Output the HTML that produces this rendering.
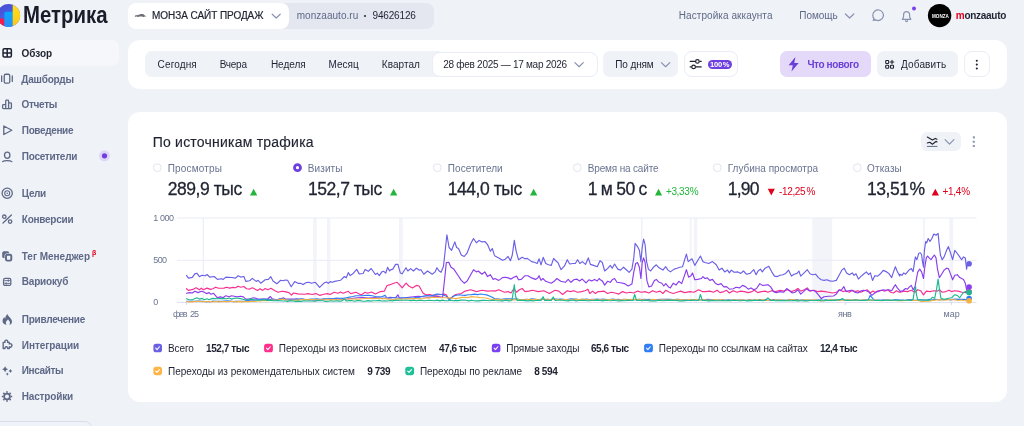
<!DOCTYPE html>
<html lang="ru"><head><meta charset="utf-8"><title>Метрика</title>
<style>
*{box-sizing:border-box;margin:0;padding:0}
html,body{width:1024px;height:426px;overflow:hidden;background:#eff2f7;font-family:"Liberation Sans",sans-serif;color:#1f2331}
.a{position:absolute;white-space:nowrap;line-height:1}
.p{position:absolute}
#w{position:absolute;left:0;top:0;width:1024px;height:426px;will-change:transform}
</style></head><body><div id="w">
<!-- panels -->
<div class="p" style="left:127.5px;top:2.8px;width:306.4px;height:25.8px;border-radius:8px;background:#e4e7f0"></div>
<div class="p" style="left:127.5px;top:2.8px;width:161px;height:25.8px;border-radius:8px;background:#fff"></div>
<div class="p" style="left:-8px;top:40px;width:127px;height:25.8px;border-radius:7px;background:#f6f7fa"></div>
<div class="p" style="left:127.5px;top:40.2px;width:879.6px;height:48.8px;border-radius:12px;background:#fff"></div>
<div class="p" style="left:145px;top:51.2px;width:300px;height:25.8px;border-radius:7px;background:#eff2f7"></div>
<div class="p" style="left:431.5px;top:51.6px;width:166px;height:25px;border-radius:8px;background:#fff;border:1px solid #ebedf5"></div>
<div class="p" style="left:603.2px;top:51.2px;width:75px;height:25.8px;border-radius:7px;background:#eff2f7"></div>
<div class="p" style="left:684px;top:51.2px;width:54px;height:25.8px;border-radius:8px;background:#fff;border:1px solid #ebedf5"></div>
<div class="p" style="left:707.8px;top:59.8px;width:23.8px;height:9px;border-radius:4.5px;background:#6e3fe0"></div>
<div class="p" style="left:780px;top:51.2px;width:91px;height:25.8px;border-radius:7px;background:#e5d9fa"></div>
<div class="p" style="left:877px;top:51.2px;width:81px;height:25.8px;border-radius:7px;background:#eff2f7"></div>
<div class="p" style="left:964px;top:51.2px;width:25.8px;height:25.8px;border-radius:8px;background:#fff;border:1px solid #ebedf5"></div>
<div class="p" style="left:127.5px;top:111.9px;width:879.6px;height:290.3px;border-radius:12px;background:#fff"></div>
<div class="p" style="left:920.9px;top:131.8px;width:39.8px;height:19.7px;border-radius:6px;background:#eff2f7"></div>
<div class="p" style="left:-10px;top:421.4px;width:102px;height:20px;border-radius:7px;border:1px solid #d9ddeb"></div>
<!-- logo text -->
<div class="a" id="logo" style="left:23.2px;top:3.5px;font-size:22.5px;font-weight:bold;color:#1a1c29;transform-origin:0 0;transform:scale(0.905,1.065)">Метрика</div>
<div class="a" style="left:92px;top:249.3px;font-size:7px;font-weight:bold;color:#e0001b">β</div>
<svg class="a" style="left:0;top:0" width="1024" height="426" viewBox="0 0 1024 426"><rect x="313.1" y="218" width="3.5" height="84.5" fill="#f3f4fa"/><rect x="327" y="218" width="3.4" height="84.5" fill="#f3f4fa"/><rect x="399" y="218" width="3.8" height="84.5" fill="#f3f4fa"/><rect x="689.7" y="218" width="1.9" height="84.5" fill="#f3f4fa"/><rect x="693.9" y="218" width="3.3" height="84.5" fill="#f3f4fa"/><rect x="812.3" y="218" width="19.9" height="84.5" fill="#f3f4fa"/><rect x="922.9" y="218" width="1.9" height="84.5" fill="#f3f4fa"/><rect x="949.4" y="218" width="3.7" height="84.5" fill="#f3f4fa"/><rect x="202.7" y="218" width="1.2" height="84.5" fill="#ecedf7"/><rect x="641.2" y="218" width="1.2" height="84.5" fill="#ecedf7"/><rect x="177" y="217.5" width="799.5" height="1" fill="#eaebf5"/><rect x="177" y="259.8" width="799.5" height="1" fill="#eaebf5"/><rect x="177" y="302" width="799.5" height="1" fill="#dfe2ee"/><rect x="185.8" y="302.5" width="1" height="2.3" fill="#d0d4e4"/><rect x="844.8" y="302.5" width="1" height="2.3" fill="#d0d4e4"/><rect x="951.1" y="302.5" width="1" height="2.3" fill="#d0d4e4"/><polyline points="186.5,275.4 188.4,278.1 192.3,277.4 194.8,273.9 196.8,273.2 199.4,276.7 201.9,275.2 205.2,275.8 207.1,274.5 209.7,277.1 214.2,276.5 217.4,279.4 221.3,278.7 223.3,279.4 225.8,277.1 231.6,277.5 235.5,278.1 238.1,275.8 240.7,277.1 243.9,276.5 245.8,281.4 249.7,280.7 252.3,278.4 256.2,281.4 258.1,280.3 260.7,283.2 265.2,279.7 268.4,279.4 270.8,276.7 273.0,281.0 276.8,283.8 280.7,280.3 283.3,280.7 285.0,280.0 287.6,280.3 291.2,286.8 294.7,281.6 297.9,283.3 300.5,283.3 303.1,284.6 306.3,282.5 308.9,282.3 311.5,283.3 315.3,282.3 319.6,287.4 323.7,283.3 326.3,282.0 328.3,283.3 330.2,281.6 332.1,282.3 334.7,281.4 337.9,280.7 340.5,280.3 344.4,276.5 346.3,277.8 348.3,272.6 350.2,275.6 353.4,273.2 356.7,269.4 359.2,273.9 363.1,273.5 365.1,269.4 368.3,271.3 371.2,268.5 375.4,274.5 377.3,273.2 379.3,275.6 381.8,271.9 383.8,271.3 385.7,273.2 387.6,267.4 389.6,271.0 390.0,270.1 392.8,269.1 395.6,264.4 397.9,264.4 400.3,272.9 402.2,273.8 406.0,267.8 407.8,271.0 410.6,268.6 413.5,271.0 416.3,268.2 419.1,270.1 421.0,269.7 423.8,274.2 427.5,271.0 432.2,274.2 435.1,271.9 436.9,267.8 439.2,271.0 441.1,272.3 443.5,266.3 446.9,234.8 449.1,247.5 451.6,250.3 454.8,241.9 456.6,247.5 458.5,248.5 461.3,255.0 464.2,256.5 467.0,253.2 470.7,243.8 473.5,238.5 476.4,242.8 479.2,240.4 482.0,241.9 484.8,241.5 487.6,244.7 490.4,251.3 492.3,248.5 494.2,254.7 495.0,256.0 498.8,257.9 502.5,260.3 505.3,259.2 508.1,256.5 510.4,260.7 512.3,255.0 514.3,240.4 516.2,251.3 518.5,259.7 522.2,257.3 525.0,258.8 527.3,258.4 531.6,261.6 534.4,262.2 537.2,263.5 539.1,258.8 541.0,264.8 543.2,257.3 545.7,263.5 548.5,264.8 551.3,265.4 553.6,258.4 556.0,261.0 557.9,262.5 561.1,269.7 564.5,265.9 567.3,259.7 569.7,264.0 572.9,263.5 575.3,263.5 577.6,259.7 579.9,263.5 582.3,261.6 585.5,264.4 588.3,257.9 590.4,264.4 593.6,265.4 597.3,266.7 600.0,260.7 602.3,262.5 604.7,271.0 607.5,268.6 610.3,265.4 612.2,268.2 614.6,264.0 617.8,269.1 620.6,270.1 623.5,267.2 626.3,269.7 629.1,272.3 631.9,269.1 633.8,257.9 635.1,243.4 637.5,246.6 639.4,250.3 640.9,261.6 642.2,247.5 643.6,239.1 645.1,244.7 646.6,261.6 648.4,269.1 650.7,271.0 653.5,267.2 656.3,264.8 659.1,267.8 662.9,270.1 665.7,266.7 668.0,270.1 670.4,271.9 674.2,269.1 677.0,268.2 679.8,267.2 682.6,266.7 684.9,258.8 686.4,254.1 688.2,261.6 692.0,258.8 694.8,265.4 697.6,260.7 700.4,256.0 702.9,261.6 705.0,262.5 708.8,263.5 712.5,261.6 716.3,264.8 719.1,270.1 721.9,268.2 724.7,271.9 727.5,270.1 729.4,272.9 731.3,270.1 734.1,272.3 737.9,271.9 740.7,273.4 743.5,271.0 746.3,274.2 750.1,273.4 753.8,269.7 756.1,274.7 758.1,271.0 760.4,269.1 762.3,271.9 765.1,268.2 768.8,266.3 771.6,271.6 774.5,276.1 777.3,276.6 780.1,275.3 782.9,274.7 785.7,273.4 788.5,270.1 791.4,276.1 794.2,274.2 797.0,273.4 798.9,271.0 800.7,276.1 803.6,273.4 807.3,269.7 810.0,273.8 812.8,274.7 815.6,274.2 818.4,277.6 821.3,279.8 824.1,280.4 826.9,279.8 829.7,280.9 832.5,281.3 836.3,280.4 839.1,275.3 841.9,270.1 844.2,268.2 846.6,272.9 849.4,274.7 852.2,272.9 854.1,275.3 856.0,273.8 858.4,279.1 860.7,276.6 863.5,274.2 866.3,271.9 868.6,274.7 870.4,272.9 872.5,280.4 874.8,275.7 877.6,276.1 880.4,273.8 883.2,270.4 886.0,271.6 888.8,273.4 891.7,277.6 893.5,271.9 895.4,266.7 897.3,271.6 899.7,276.1 900.0,274.2 901.9,275.3 903.8,272.9 905.6,274.2 907.5,271.9 909.4,269.7 911.3,268.6 913.1,271.6 914.6,261.6 915.4,256.9 916.9,259.7 918.8,253.2 920.3,252.8 921.6,254.7 922.5,261.6 923.5,267.2 924.4,250.3 925.7,241.5 926.7,242.8 928.2,238.5 930.0,241.5 931.9,238.5 933.8,234.0 936.0,235.3 938.1,233.4 939.0,242.8 940.4,255.0 942.2,259.7 944.1,256.9 946.6,250.3 948.4,246.6 950.3,252.2 952.6,259.7 954.8,250.3 957.3,253.5 959.7,256.9 961.6,259.7 963.5,256.9 965.3,257.9 966.6,269.1 967.6,263.5 969.1,263.9" fill="none" stroke="#6a60e6" stroke-width="1.15" stroke-linejoin="round" stroke-linecap="round"/><polyline points="186.5,288.7 188.4,290.4 192.9,289.4 196.1,287.8 199.4,289.8 201.3,288.1 203.2,289.8 207.1,288.1 210.3,289.4 212.9,288.7 215.5,287.2 218.7,288.3 223.9,288.1 226.5,287.2 229.7,288.1 232.9,287.4 235.5,287.8 238.1,286.2 240.7,287.2 243.9,286.5 246.5,288.7 249.7,289.1 252.3,287.8 257.5,290.4 260.1,288.7 262.6,290.4 265.2,288.5 267.8,289.8 271.0,288.3 274.9,290.7 278.1,292.3 282.0,291.3 285.0,291.6 288.9,292.6 291.5,295.2 293.4,293.0 297.9,293.9 304.4,294.3 308.2,293.6 312.1,294.5 316.0,293.6 319.9,295.4 323.7,294.3 327.6,293.6 330.2,294.5 334.1,292.3 337.9,293.3 340.5,292.0 343.1,293.3 345.7,292.3 348.3,291.3 350.8,293.6 356.0,292.3 361.2,294.9 365.1,292.3 367.6,293.3 371.5,292.0 375.4,293.9 380.5,291.6 384.4,291.1 387.0,285.5 389.6,284.9 390.0,284.7 393.8,283.2 397.1,282.3 399.4,284.7 402.2,287.9 406.0,283.2 408.8,286.0 412.5,287.9 416.3,285.4 419.1,286.0 422.9,293.0 425.7,294.8 429.4,294.5 433.2,295.4 438.8,294.8 444.4,294.1 446.3,294.8 449.1,299.2 451.9,297.3 455.7,294.5 461.3,293.5 465.1,291.1 470.7,289.8 476.4,291.6 482.0,290.3 487.6,291.1 493.2,290.7 495.0,291.1 498.8,289.8 504.4,292.2 508.1,291.6 511.0,293.0 513.8,288.8 516.6,292.2 519.4,289.8 522.2,288.5 525.0,291.6 528.8,291.1 532.5,290.3 538.2,291.6 543.8,290.7 549.4,293.5 555.1,290.3 558.8,291.1 562.6,294.5 567.3,290.7 570.1,291.6 573.8,290.7 577.6,292.2 581.4,291.6 585.1,290.7 587.9,289.2 589.8,293.5 592.6,291.1 595.4,293.5 598.2,291.6 600.0,291.6 603.8,291.1 607.5,293.5 611.3,292.2 615.0,293.0 618.8,294.1 622.5,291.6 626.3,293.0 630.0,292.2 633.8,293.0 637.5,291.1 641.3,292.2 645.1,291.6 648.8,293.0 652.6,290.7 656.3,292.2 660.1,291.1 662.9,293.5 665.7,290.3 669.5,292.2 673.2,293.5 677.0,292.2 680.7,291.1 684.5,292.6 690.1,291.6 693.9,292.2 698.6,289.8 702.3,291.6 705.0,291.6 709.7,291.1 713.4,292.2 717.2,290.3 720.0,292.6 723.8,291.6 726.6,290.3 729.4,293.0 733.2,290.7 736.9,292.2 740.7,291.1 744.4,291.6 748.2,292.6 751.9,291.6 754.7,290.3 757.6,292.6 761.3,291.6 765.1,291.1 767.9,292.2 771.6,290.7 775.4,291.6 780.1,290.3 783.8,291.1 787.6,289.8 791.4,291.6 795.1,290.3 797.9,288.5 800.7,291.1 804.5,289.8 807.3,287.9 810.0,291.1 813.8,290.3 817.5,291.6 821.3,291.1 825.0,291.6 828.8,292.2 832.5,293.0 836.3,292.2 840.0,289.8 842.9,291.6 845.7,290.7 849.4,292.2 852.2,290.3 855.1,291.6 857.9,290.7 860.7,292.2 864.4,290.7 867.3,289.8 870.1,293.0 872.9,291.1 874.8,292.2 877.6,291.1 881.3,290.3 885.1,291.1 887.9,289.8 890.7,292.2 893.5,293.0 896.4,290.7 899.2,292.2 900.0,292.2 903.8,291.1 907.5,291.6 911.3,290.3 915.0,292.2 917.8,289.8 920.6,290.7 923.5,294.8 926.3,291.1 930.0,291.6 933.8,290.7 937.5,291.1 939.4,289.8 942.2,292.2 946.0,291.6 948.8,290.3 951.6,291.6 954.4,290.7 958.2,291.1 961.9,292.2 965.7,292.6 969.1,291.6" fill="none" stroke="#f72f8f" stroke-width="1.15" stroke-linejoin="round" stroke-linecap="round"/><polyline points="186.5,293.3 189.7,292.6 192.3,293.0 194.8,291.3 198.1,292.6 201.3,291.3 203.9,292.0 206.5,293.6 209.1,292.6 211.0,294.2 213.6,293.3 217.4,297.8 220.0,296.9 223.3,297.5 225.8,295.8 229.1,296.7 231.6,295.8 236.8,296.7 240.7,296.2 243.3,296.9 245.8,299.1 249.7,298.8 253.6,297.8 257.5,298.8 262.6,299.1 267.8,298.8 270.4,296.5 272.3,298.8 276.8,299.7 282.0,298.4 283.3,297.8 285.0,298.8 297.9,299.1 310.8,299.7 318.6,300.4 323.7,299.3 336.6,298.8 343.1,299.5 349.6,298.8 357.3,297.8 362.5,297.5 368.9,298.0 375.4,297.5 381.8,298.4 388.3,297.8 390.0,297.3 395.6,297.8 397.9,294.8 399.4,298.2 408.8,297.3 418.2,296.3 427.5,297.3 436.9,296.3 442.6,297.3 444.4,281.3 446.3,262.5 448.8,262.2 451.0,267.2 453.8,269.1 457.6,274.7 461.3,280.4 464.2,283.2 467.0,281.3 470.7,274.7 473.5,269.7 476.4,271.9 478.2,271.0 482.0,274.2 484.8,271.9 487.6,276.6 490.4,274.7 493.2,279.4 495.0,278.5 498.8,280.4 502.5,277.6 505.3,277.2 508.1,277.9 511.0,279.1 513.8,277.2 516.6,276.1 518.5,279.8 521.3,279.4 525.0,275.7 527.9,275.7 531.6,277.9 535.4,279.4 537.8,277.9 539.1,275.7 541.0,280.4 542.9,278.5 545.7,281.3 551.3,283.2 554.1,281.3 556.9,278.5 560.7,281.3 565.4,282.3 568.2,279.4 571.0,282.3 573.8,279.8 576.7,279.1 579.5,280.9 582.3,279.1 586.0,282.8 588.9,279.8 591.7,280.9 594.5,279.4 597.3,280.9 599.2,278.5 600.0,279.4 602.3,280.9 604.7,285.1 607.5,281.3 610.3,282.3 612.2,279.8 614.6,278.5 616.9,282.3 620.6,282.8 624.4,283.6 628.2,286.0 631.9,284.1 633.8,271.9 635.7,263.5 637.5,262.5 639.4,267.2 640.9,278.5 642.2,262.5 643.6,257.9 645.1,262.5 646.9,280.4 648.8,286.9 651.6,286.0 654.4,280.4 656.3,279.4 659.1,282.3 661.9,283.2 663.8,286.0 665.7,283.6 668.5,286.9 670.4,287.9 673.2,283.2 676.0,285.1 678.8,281.3 681.7,283.6 684.1,276.6 686.4,269.7 688.6,277.2 691.0,275.7 692.5,272.9 694.8,279.8 697.6,279.4 701.4,278.5 702.9,276.6 705.0,278.5 707.3,277.9 709.7,280.4 712.5,279.4 715.3,283.2 718.1,284.7 721.0,283.6 723.8,286.9 726.6,286.6 729.4,289.2 733.2,288.8 736.0,287.3 739.7,287.9 742.5,285.4 745.4,286.6 748.2,289.2 751.0,287.9 753.8,289.8 756.6,288.5 759.8,283.6 762.3,285.4 765.1,285.1 767.9,284.7 770.7,286.9 773.5,291.6 776.3,292.6 780.1,291.6 783.8,292.2 786.7,288.5 789.5,290.7 792.3,293.0 795.1,292.2 797.9,289.8 800.7,294.1 803.6,291.6 806.4,288.8 809.2,290.7 810.0,290.7 812.8,290.3 815.6,291.6 818.4,294.8 821.3,298.6 824.1,296.7 828.8,296.3 833.5,296.0 836.3,294.1 839.1,289.8 841.0,290.7 843.8,286.6 846.0,291.6 848.5,290.7 851.3,290.3 855.1,292.2 857.9,293.0 860.7,291.1 863.5,290.3 866.3,290.7 869.1,292.2 871.9,295.4 874.8,293.0 877.6,291.6 880.4,290.7 883.2,289.8 886.0,290.3 888.8,289.8 891.7,290.7 894.1,286.6 895.4,284.7 897.3,287.9 899.7,290.7 900.0,291.6 902.8,290.7 905.6,288.5 907.5,289.2 909.4,286.9 911.3,285.4 913.1,289.8 915.0,286.9 916.5,278.5 917.8,271.9 919.7,269.1 921.6,271.9 923.5,278.5 924.8,267.2 926.3,257.9 927.6,256.0 929.1,257.9 931.0,259.7 932.9,256.9 934.4,255.0 936.0,257.9 937.5,269.1 939.4,277.6 941.3,274.7 944.1,270.1 946.6,268.2 948.4,268.6 950.3,273.4 952.6,279.8 954.8,275.3 957.3,274.7 959.7,277.6 961.6,278.5 963.5,279.4 965.3,283.2 966.6,289.8 969.1,286.9" fill="none" stroke="#8a3ded" stroke-width="1.15" stroke-linejoin="round" stroke-linecap="round"/><polyline points="186.5,301.4 189.2,301.2 191.9,301.0 194.6,301.3 197.2,301.1 199.9,301.0 202.6,301.3 205.3,301.8 208.0,301.7 210.6,301.6 213.3,301.1 216.0,301.4 218.7,301.4 221.6,301.2 224.5,301.0 227.3,300.9 230.2,301.0 233.1,301.6 236.0,301.4 238.8,301.4 241.7,301.3 244.6,301.0 247.8,300.4 251.1,300.2 254.3,300.1 257.5,299.7 260.7,299.6 263.9,299.1 267.1,299.5 270.4,299.3 273.6,299.8 276.8,299.7 280.1,298.9 283.3,298.8 285.0,299.7 287.9,299.7 290.7,299.7 293.6,299.5 296.5,299.1 299.3,299.3 302.2,298.9 305.1,299.6 307.9,299.5 310.8,299.1 314.0,299.1 317.2,298.8 320.5,299.2 323.7,298.8 326.9,298.7 330.1,298.7 333.4,298.5 336.6,298.0 339.9,298.2 343.1,298.4 346.4,297.7 349.6,297.1 352.8,296.5 356.0,295.8 359.2,295.7 362.5,295.8 365.7,295.3 368.9,295.4 372.1,295.8 375.4,296.5 378.6,296.9 381.8,296.7 385.1,295.4 387.0,298.0 390.0,298.2 392.8,297.7 395.6,297.7 398.5,298.2 401.3,297.8 404.1,298.0 406.9,297.9 409.7,297.8 412.6,298.3 415.4,297.6 418.2,297.8 421.0,296.8 423.8,296.0 426.9,295.5 430.1,295.7 433.2,295.4 436.9,294.1 439.8,294.2 442.6,294.8 446.3,296.3 449.1,299.7 453.8,296.0 456.6,295.3 459.5,294.8 462.3,295.3 465.1,295.4 468.2,294.8 471.4,294.6 474.5,294.1 477.6,294.6 480.8,294.0 483.9,294.5 486.7,294.9 489.5,296.0 493.2,297.8 495.0,299.0 497.6,298.8 500.2,299.3 502.9,299.1 505.5,298.8 508.1,298.9 510.8,298.8 513.4,299.1 516.0,298.7 518.6,299.3 521.2,299.5 523.9,299.5 526.5,299.4 529.1,299.6 531.8,298.7 534.4,299.0 537.0,299.6 539.6,299.5 542.2,299.1 544.9,299.6 547.5,299.4 550.1,299.5 552.8,299.1 555.4,299.0 558.0,299.2 560.6,299.0 563.2,299.2 565.9,299.8 568.5,299.2 571.1,298.9 573.8,299.0 576.4,299.1 579.0,299.7 581.6,299.3 584.2,299.2 586.9,299.1 589.5,299.9 592.1,299.4 594.8,299.2 597.4,299.1 600.0,299.5 602.6,299.1 605.2,299.2 607.9,299.7 610.5,299.2 613.1,299.1 615.8,299.5 618.4,299.3 621.0,300.0 623.6,299.2 626.2,299.6 628.9,299.8 631.5,299.5 634.1,300.0 636.8,299.5 639.4,299.3 642.0,299.5 644.6,299.2 647.2,299.5 649.9,299.4 652.5,300.0 655.1,299.9 657.8,299.6 660.4,299.2 663.0,299.4 665.6,299.4 668.2,299.4 670.9,299.4 673.5,300.0 676.1,299.3 678.8,299.2 681.4,300.0 684.0,299.7 686.6,300.1 689.2,299.6 691.9,300.0 694.5,299.8 697.1,299.9 699.8,299.9 702.4,299.7 705.0,299.7 707.6,299.3 710.2,299.5 712.9,300.1 715.5,300.1 718.1,300.1 720.8,299.6 723.4,299.9 726.0,300.0 728.6,299.9 731.2,300.1 733.9,299.8 736.5,300.0 739.1,300.0 741.8,299.6 744.4,300.2 747.0,300.3 749.6,299.5 752.2,300.3 754.9,300.3 757.5,300.1 760.1,299.5 762.8,300.3 765.4,299.6 768.0,300.4 770.6,300.1 773.2,299.6 775.9,299.7 778.5,300.1 781.1,300.1 783.8,300.2 786.4,300.4 789.0,299.8 791.6,299.6 794.2,300.4 796.9,299.6 799.5,300.4 802.1,299.7 804.8,300.4 807.4,300.3 810.0,300.1 812.6,300.4 815.3,300.1 817.9,300.4 820.6,299.8 823.2,300.3 825.9,299.9 828.5,300.5 831.2,300.3 833.8,300.1 836.5,300.1 839.1,299.7 841.7,299.7 844.4,300.2 847.0,300.1 849.7,300.4 852.3,300.2 855.0,299.8 857.6,300.0 860.3,300.3 862.9,300.1 865.6,299.7 868.2,300.1 870.1,295.4 872.9,298.6 874.8,300.1 877.6,300.4 880.4,300.4 883.2,299.7 886.0,300.1 888.8,300.0 891.6,300.4 894.4,299.9 897.2,299.9 900.0,300.1 902.7,300.1 905.3,300.5 908.0,299.6 910.6,299.6 913.3,300.1 915.9,300.3 918.6,299.9 921.3,299.8 923.9,300.1 926.6,300.0 929.2,299.4 931.9,300.1 934.5,299.4 937.2,299.5 939.9,299.9 942.5,299.5 945.2,299.8 947.8,299.2 950.5,299.9 953.2,299.2 955.8,299.1 958.5,299.4 961.1,299.2 963.8,299.4 966.4,299.7 969.1,299.3" fill="none" stroke="#2f7df6" stroke-width="1.15" stroke-linejoin="round" stroke-linecap="round"/><polyline points="186.5,301.6 189.1,301.9 191.8,301.9 194.4,301.6 197.1,301.4 199.7,301.2 202.3,301.7 205.0,301.6 207.6,301.8 210.3,301.5 212.9,301.8 215.6,301.4 218.2,301.9 220.8,301.8 223.5,301.5 226.1,301.6 228.8,301.8 231.4,301.3 234.0,301.6 236.7,301.9 239.3,301.4 242.0,301.9 244.6,301.6 248.4,301.6 252.3,301.3 254.9,301.5 257.5,301.0 260.1,301.0 264.0,300.4 267.8,300.6 273.0,300.1 278.1,299.7 283.3,299.1 285.0,299.7 288.2,300.1 291.4,300.2 294.7,300.0 297.9,300.1 301.1,299.6 304.4,299.5 307.6,299.8 310.8,299.5 314.0,299.4 317.2,300.0 320.5,299.7 323.7,299.7 326.9,299.4 330.1,299.8 333.4,299.6 336.6,299.7 339.2,299.9 341.8,299.7 344.4,299.2 347.0,299.1 349.6,298.8 352.8,299.0 356.1,299.1 359.3,299.2 362.5,298.8 365.7,298.3 368.9,298.5 372.2,298.6 375.4,298.4 378.6,298.4 381.9,298.8 385.1,298.6 388.3,299.1 390.0,299.2 392.8,299.5 395.6,299.1 398.5,298.7 401.3,299.2 404.1,298.8 406.9,298.7 409.7,298.9 412.6,298.6 415.4,298.6 418.2,298.8 420.9,298.9 423.5,298.5 426.2,297.7 428.9,298.2 431.6,297.3 434.2,297.4 436.9,297.3 440.0,297.8 443.2,297.7 446.3,297.8 449.4,297.9 452.6,298.2 455.7,298.6 458.8,298.1 462.0,297.4 465.1,297.3 468.2,297.6 471.4,296.6 474.5,296.9 477.6,297.1 480.8,297.7 483.9,297.8 487.0,298.2 490.1,299.2 493.2,299.2 495.0,299.5 497.6,299.3 500.2,299.9 502.9,299.9 505.5,299.7 508.1,299.9 510.8,299.5 513.4,299.8 516.0,299.8 518.6,299.6 521.2,299.5 523.9,299.7 526.5,299.5 529.1,299.2 531.8,299.8 534.4,299.4 537.0,299.6 539.6,299.8 542.2,299.3 544.9,299.2 547.5,299.3 550.1,299.7 552.8,299.5 555.4,299.4 558.0,299.6 560.6,300.0 563.2,299.4 565.9,299.6 568.5,300.0 571.1,299.7 573.8,299.4 576.4,299.6 579.0,299.6 581.6,299.3 584.2,299.6 586.9,299.5 589.5,300.0 592.1,299.5 594.8,299.8 597.4,300.1 600.0,299.7 602.6,300.1 605.2,299.6 607.9,299.8 610.5,299.6 613.1,299.6 615.8,299.7 618.4,300.0 621.0,300.1 623.6,299.6 626.2,299.3 628.9,299.7 631.5,299.4 634.1,299.3 636.8,300.0 639.4,299.4 642.0,300.0 644.6,299.7 647.2,300.2 649.9,300.1 652.5,299.4 655.1,299.5 657.8,300.2 660.4,299.9 663.0,299.7 665.6,300.1 668.2,300.1 670.9,299.8 673.5,299.8 676.1,299.5 678.8,299.7 681.4,299.5 684.0,300.0 686.6,300.0 689.2,299.5 691.9,300.0 694.5,299.5 697.1,299.5 699.8,300.0 702.4,299.9 705.0,299.9 707.6,300.3 710.2,300.0 712.9,300.1 715.5,299.6 718.1,300.2 720.8,299.6 723.4,300.0 726.0,300.3 728.6,300.3 731.2,300.3 733.9,299.9 736.5,300.1 739.1,300.2 741.8,299.6 744.4,300.4 747.0,300.3 749.6,299.9 752.2,300.2 754.9,299.9 757.5,299.8 760.1,300.2 762.8,299.6 765.4,300.3 768.0,300.5 770.6,299.8 773.2,300.4 775.9,299.7 778.5,300.4 781.1,299.8 783.8,300.5 786.4,300.0 789.0,300.4 791.6,299.6 794.2,299.7 796.9,300.4 799.5,300.2 802.1,300.1 804.8,299.7 807.4,299.8 810.0,300.1 812.6,300.0 815.3,299.7 817.9,300.6 820.6,300.4 823.2,300.6 825.9,300.4 828.5,300.0 831.2,299.8 833.8,300.4 836.5,299.9 839.1,300.3 841.8,300.2 844.4,300.2 847.1,299.9 849.7,299.9 852.4,300.3 855.0,299.9 857.6,300.3 860.3,300.0 862.9,300.1 865.6,300.0 868.2,300.4 870.9,300.3 873.5,300.1 876.2,300.1 878.8,300.5 881.5,300.8 884.1,300.4 886.8,300.1 889.4,300.3 892.1,300.2 894.7,300.5 897.4,300.7 900.0,300.5 902.7,300.6 905.4,300.2 908.1,300.3 910.7,300.4 913.4,300.4 916.1,300.4 918.8,300.5 921.6,301.6 926.3,301.0 929.1,301.1 931.9,300.4 934.7,300.2 937.5,299.7 940.5,299.9 943.5,299.8 946.6,300.0 949.6,299.6 952.6,299.7 955.4,300.0 958.2,300.5 961.0,300.0 963.8,300.5 966.5,300.7 969.1,300.7" fill="none" stroke="#f5b244" stroke-width="1.15" stroke-linejoin="round" stroke-linecap="round"/><polyline points="186.5,298.7 189.0,299.7 192.9,299.5 196.8,297.8 199.4,299.1 201.9,298.4 204.5,299.7 207.1,298.8 209.1,299.7 212.3,298.4 217.4,298.8 222.6,298.4 226.5,298.8 229.1,298.0 231.6,299.1 235.5,298.0 239.4,298.4 244.6,299.7 247.8,299.5 251.0,299.1 254.2,299.8 257.5,300.1 260.7,300.2 263.9,299.7 267.1,300.4 270.4,300.4 274.2,300.7 278.1,300.6 283.3,301.0 285.0,301.0 287.7,301.4 290.4,300.6 293.1,301.0 295.8,301.4 298.5,301.1 301.2,301.4 303.9,300.7 306.6,301.0 309.3,300.8 312.0,301.0 314.8,301.1 317.5,300.6 320.2,300.7 322.9,300.8 325.6,301.4 328.3,301.2 331.0,300.7 333.7,301.3 336.4,300.7 339.1,301.1 341.8,301.0 344.4,299.1 346.3,301.0 349.0,300.6 351.8,300.5 354.5,301.2 357.2,300.6 360.0,300.6 362.7,301.2 365.4,301.1 368.1,300.6 370.9,301.1 373.6,300.7 376.3,300.8 379.1,300.4 381.8,301.0 384.5,300.7 387.3,301.0 390.0,300.5 392.6,300.9 395.2,300.3 397.9,300.4 400.5,300.2 403.1,300.2 405.8,300.1 408.4,300.3 411.0,300.6 413.6,300.1 416.2,300.7 418.9,300.4 421.5,300.3 424.1,300.8 426.8,300.5 429.4,300.3 432.0,300.5 434.6,300.7 437.2,300.1 439.9,300.9 442.5,300.1 445.1,300.7 447.8,300.8 450.4,300.1 453.0,300.8 455.6,300.4 458.2,300.6 460.9,300.1 463.5,300.1 466.1,300.2 468.8,300.9 471.4,300.2 474.0,300.7 476.6,300.9 479.2,300.9 481.9,300.4 484.5,300.4 487.1,300.5 489.8,300.7 492.4,300.1 495.0,300.5 497.8,300.7 500.6,300.8 503.4,300.8 506.3,300.1 509.1,300.9 511.9,300.5 513.2,292.6 514.3,284.7 515.6,296.3 517.2,300.5 519.8,300.1 522.5,300.4 525.1,300.6 527.8,300.9 530.4,300.4 533.1,300.9 535.7,300.5 538.4,300.3 541.0,300.5 543.1,296.7 544.7,300.5 548.0,300.3 551.3,300.5 553.2,296.9 555.1,300.5 557.7,300.2 560.4,300.1 563.0,300.2 565.7,300.7 568.3,300.9 570.9,300.2 573.6,300.1 576.2,300.9 578.9,300.5 581.5,300.4 584.2,300.3 586.8,300.6 589.4,300.8 592.1,300.5 594.7,300.4 597.4,300.1 600.0,300.5 602.7,300.9 605.5,300.1 608.2,300.5 611.0,300.8 613.7,300.2 616.5,300.7 619.2,300.9 621.9,300.6 624.7,300.8 627.4,300.1 630.2,300.4 632.9,300.5 634.7,294.5 636.6,300.5 639.3,300.2 642.0,300.8 644.7,300.3 647.4,300.5 650.1,300.9 652.8,300.8 655.5,300.9 658.2,300.5 660.9,300.5 663.6,300.7 666.3,300.5 668.9,300.3 671.6,300.4 674.3,300.2 677.0,300.4 679.7,300.9 682.4,300.9 685.1,300.6 687.8,300.5 690.5,300.4 693.2,300.1 695.9,300.3 698.6,300.5 700.4,294.5 702.3,300.5 705.0,300.5 707.6,300.8 710.2,300.8 712.8,300.4 715.5,300.8 718.1,300.7 720.7,300.7 723.3,300.6 725.9,300.7 728.5,300.4 731.1,300.7 733.7,300.3 736.4,300.5 739.0,300.7 741.6,300.7 744.2,300.3 746.8,300.9 749.4,300.6 752.0,300.6 754.6,300.1 757.3,300.5 759.9,300.3 762.5,300.7 765.1,300.5 767.9,297.8 770.7,300.5 773.3,300.5 775.9,300.8 778.6,300.6 781.2,300.8 783.8,300.4 786.4,300.6 789.0,300.7 791.7,300.8 794.3,300.4 796.9,300.8 799.5,300.8 802.1,300.7 804.8,300.9 807.4,300.9 810.0,300.5 812.7,300.5 815.5,300.5 818.2,300.1 820.9,300.7 823.6,300.7 826.4,300.3 829.1,300.4 831.8,300.4 834.5,300.4 837.3,299.8 840.0,300.1 842.3,298.6 844.7,300.1 847.3,300.4 850.0,300.2 852.6,300.3 855.2,300.1 857.9,300.3 860.5,300.5 863.1,300.4 865.8,300.5 868.4,299.8 871.0,300.0 873.7,300.3 876.3,300.5 878.9,300.1 881.6,300.5 884.2,300.5 886.8,300.0 889.5,300.4 892.1,300.2 894.7,300.1 897.4,300.2 900.0,300.5 902.8,300.3 905.6,300.2 908.5,300.2 911.3,300.5 913.1,299.2 914.6,289.8 915.6,286.9 916.5,294.8 917.8,300.1 920.8,299.7 923.9,300.1 927.0,300.0 930.0,300.1 932.3,297.3 934.7,298.2 936.6,288.8 938.1,279.1 939.4,288.8 940.9,298.2 944.1,299.2 948.8,298.2 951.6,297.8 954.4,294.8 957.3,295.4 959.7,297.8 961.9,294.5 963.8,292.2 966.6,291.1 969.1,292.6" fill="none" stroke="#1db890" stroke-width="1.15" stroke-linejoin="round" stroke-linecap="round"/><circle cx="969.1" cy="263.8" r="2.8" fill="#6a60e6"/><circle cx="969.1" cy="291.8" r="2.8" fill="#f72f8f"/><circle cx="969.1" cy="287" r="2.8" fill="#8a3ded"/><circle cx="969.1" cy="298.6" r="2.8" fill="#2f7df6"/><circle cx="969.1" cy="300.7" r="2.8" fill="#f5b244"/><circle cx="969.1" cy="292.4" r="2.8" fill="#1db890"/></svg>
<svg class="a" style="left:0;top:0" width="1024" height="426" viewBox="0 0 1024 426" fill="none">
<defs>
<clipPath id="lc"><circle cx="8.6" cy="15.45" r="11.55"/></clipPath>
<linearGradient id="g1" x1="0" y1="0" x2="0.6" y2="1"><stop offset="0" stop-color="#4f46cf"/><stop offset="1" stop-color="#3a72f2"/></linearGradient>
<linearGradient id="g2" x1="0" y1="0" x2="0" y2="1"><stop offset="0" stop-color="#08a8ff"/><stop offset="1" stop-color="#2b8df6"/></linearGradient>
<linearGradient id="g3" x1="0" y1="0" x2="0" y2="1"><stop offset="0" stop-color="#ffe11c"/><stop offset="1" stop-color="#ffc519"/></linearGradient>
</defs>
<!-- logo -->
<g clip-path="url(#lc)">
<rect x="-4" y="3" width="26" height="25" fill="url(#g1)"/>
<rect x="-4" y="18.5" width="9" height="10" fill="#f11d4e"/>
<path d="M4.3 28V13.7a2 2 0 0 1 2-2H13V28z" fill="url(#g2)"/>
<rect x="12.7" y="3" width="9" height="25" fill="url(#g3)"/>
</g>
<!-- counter car icon -->
<path d="M134.900 17v-1.600l4.100-.600 1.500-.700h2.600l1.800 1.400.900.700v.500l-1.300-.300-.600.500h-1l-.500-.500h-3.300l-.500.600h-1l-.600-.600-.900.200z" fill="#4a4c55" opacity=".8"/>
<!-- chevrons -->
<g stroke="#8a93b2" stroke-width="1.2" stroke-linecap="round" stroke-linejoin="round">
<path d="M272.2 14.200l4 3.800 4-3.800"/>
<path d="M845.4 14l4.200 4 4.200-4"/>
<path d="M574.9 62.600l4.200 4.100 4.200-4.100"/>
<path d="M661.400 62.600l4.200 4.100 4.200-4.100"/>
<path d="M945.100 139.600l4.400 4.500 4.400-4.500"/>
</g>
<!-- chat + bell -->
<g stroke="#8a93b2" stroke-width="1.2" stroke-linecap="round" stroke-linejoin="round">
<path d="M874.300 19c-1-1-1.500-2.400-1.500-3.800a5.300 5.300 0 1 1 2.800 4.700l-2.500.5z"/>
<path d="M902.300 19.300h8.600c-.9-1-1.300-2-1.300-3.400v-1.300a3 3 0 0 0-6 0v1.300c0 1.400-.4 2.400-1.300 3.400z"/>
<path d="M905.600 20.600a1 1 0 0 0 2 0"/>
</g>
<circle cx="914" cy="8.500" r="2" fill="#7a3ff0"/>
<circle cx="939.600" cy="15.600" r="11.700" fill="#000"/>
<!-- sidebar icons -->
<g stroke="#1f2331" stroke-width="1.5" stroke-linejoin="round">
<rect x="3.050" y="48.850" width="8.300" height="8.050" rx="1.200"/>
<path d="M7.200 48.850v8.050M3.050 52.900h8.300"/>
</g>
<g stroke="#5e6987" stroke-width="1.300" stroke-linecap="round" stroke-linejoin="round">
<rect x="4.250" y="74.250" width="5.500" height="8.900" rx="1.500"/>
<path d="M1.650 75.900v5.500M12.300 75.900v5.500"/>
<path d="M2.600 107.800v-2.300a.8.800 0 0 1 .8-.8h2.300v-3.700a.8.800 0 0 1 .8-.8h1.300a.8.800 0 0 1 .8.800v1.800h2a.8.800 0 0 1 .8.800v4.200a.8.800 0 0 1-.8.800h-7.200a.8.800 0 0 1-.8-.8zM5.700 104.700v3.900M8.600 102.800v5.800"/>
<path d="M3.800 126v8.500l8-4.250z"/>
<ellipse cx="7.200" cy="155.300" rx="2.700" ry="3.100"/>
<path d="M2.600 161.600c1.300-1.400 7.900-1.400 9.200 0"/>
<circle cx="7.200" cy="193.200" r="5.100"/>
<circle cx="7.200" cy="193.200" r="2.500" stroke-width="1.100"/>
<path d="M3 223l8.400-8"/>
<circle cx="4.300" cy="216.700" r="1.700"/>
<circle cx="10.100" cy="221.600" r="1.700"/>
<rect x="3.600" y="278.400" width="7.200" height="7" rx="1.500" stroke-width="1.300"/>
<path d="M4.800 280.600h4.800M4.800 283.400h4.800M8.300 279.800v1.600M6.200 282.600v1.600" stroke-width="0.900"/>
<path d="M3.200 342.400H5a1.500 1.500 0 1 1 2.600 0H9.300V344a1.700 1.700 0 1 1 0 2.800V348.600H7.600a1.400 1.400 0 1 0-2.600 0H3.200z" stroke-width="1.400"/>
<circle cx="7" cy="396.5" r="2.900" stroke-width="1.800"/>
<path d="M10.70 396.50L12.20 396.50M9.62 399.12L10.68 400.18M7.00 400.20L7.00 401.70M4.38 399.12L3.32 400.18M3.30 396.50L1.80 396.50M4.38 393.88L3.32 392.82M7.00 392.80L7.00 391.30M9.62 393.88L10.68 392.82" stroke-width="1.700" stroke-linecap="butt"/>
</g>
<circle cx="7.200" cy="193.200" r=".8" fill="#5e6987"/>
<!-- tag manager -->
<rect x="2.200" y="251.200" width="7" height="7" rx="1.800" fill="#5e6987"/>
<rect x="6" y="254.800" width="5.300" height="5.800" rx="1.300" fill="#eff2f7" stroke="#eff2f7" stroke-width="3"/>
<rect x="6" y="254.800" width="5.300" height="5.800" rx="1.300" fill="#eff2f7" stroke="#5e6987" stroke-width="1.900"/>
<!-- flame -->
<path d="M7.500 314c.4 1.700 1.600 2.500 2.800 4 1.200 1.400 1.700 2.600 1.700 3.700 0 1.800-1.200 3-2.900 3.100.7-.6 1-1.300.9-2.200-.2-1.200-1.100-1.900-2-3.300-.5 1.100-1.400 1.500-1.900 2.500-.5 1.100-.2 2.300.8 3-2.500-.1-4.400-1.500-4.400-3.800 0-1.700 1-2.900 1.800-4 .1.800.4 1.300.9 1.700.2-1.800 1-3.700 2.300-4.700z" fill="#5e6987"/>
<!-- sparkles -->
<g fill="#5e6987">
<path d="M5.1 366.3Q5.76 368.64 8.10 369.30Q5.76 369.96 5.10 372.30Q4.44 369.96 2.10 369.30Q4.44 368.64 5.10 366.30z"/>
<path d="M10.4 369.1Q10.82 370.58 12.30 371.00Q10.82 371.42 10.40 372.90Q9.98 371.42 8.50 371.00Q9.98 370.58 10.40 369.10z"/>
<path d="M7.3 372.5Q7.65 373.75 8.90 374.10Q7.65 374.45 7.30 375.70Q6.95 374.45 5.70 374.10Q6.95 373.75 7.30 372.50z"/>
</g>
<!-- visitors purple dot -->
<circle cx="104.500" cy="155.800" r="5.500" fill="#dfd5f8"/>
<circle cx="104.500" cy="155.800" r="2.600" fill="#6e3fe0"/>
<!-- toolbar icons -->
<g stroke="#1f2331" stroke-width="1.200" stroke-linecap="round">
<path d="M690.200 61.400h4.800M700 61.400h1.200M690.200 66.900h1M696 66.900h5.200"/>
<circle cx="697.400" cy="61.400" r="1.800"/>
<circle cx="693.600" cy="66.900" r="1.800"/>
</g>
<path d="M795.400 57.100l-6.800 8.200h4.200l-1.300 6.200 7.200-8.600h-4.400z" fill="#6a3fd8"/>
<g stroke="#1f2331" stroke-width="1.100">
<rect x="885.700" y="60.500" width="3" height="3" rx=".8"/>
<rect x="885.700" y="65.300" width="3" height="3" rx=".8"/>
<rect x="890.500" y="65.300" width="3" height="3" rx=".8"/>
<path d="M892 60.200v3.600M890.200 62h3.600" stroke-linecap="round"/>
</g>
<g fill="#1f2331"><circle cx="976.800" cy="60.700" r="1.050"/><circle cx="976.800" cy="64.600" r="1.050"/><circle cx="976.800" cy="68.500" r="1.050"/></g>
<!-- card icons -->
<g stroke="#1f2331" stroke-width="1" stroke-linecap="round" stroke-linejoin="round">
<path d="M927.300 137.100L932.400 140 935.300 138.400 937 139.200M927.300 143L929.800 142.200 932.400 144.300 936.200 141.300 937 142" stroke-width="1.100"/>
<path d="M927.300 146.400H937" stroke="#5e6987" stroke-width="1"/>
</g>
<g fill="#8a93b2"><rect x="972.800" y="136.300" width="2.100" height="2.100" rx=".6"/><rect x="972.800" y="140.650" width="2.100" height="2.100" rx=".6"/><rect x="972.800" y="145" width="2.100" height="2.100" rx=".6"/></g>
<!-- radios -->
<g fill="#fff" stroke="#e1e4ef" stroke-width="1">
<circle cx="157.300" cy="167.700" r="3.900"/><circle cx="437.300" cy="167.700" r="3.900"/><circle cx="577.300" cy="167.700" r="3.900"/><circle cx="717.300" cy="167.700" r="3.900"/><circle cx="857.300" cy="167.700" r="3.900"/>
</g>
<circle cx="297.500" cy="167.700" r="3" fill="#fff" stroke="#6e3fe0" stroke-width="2.800"/>
<!-- triangles -->
<g fill="#21b53a"><path d="M250 195.400l3.650-6.600 3.650 6.600z"/><path d="M390 195.400l3.650-6.600 3.650 6.600z"/><path d="M530 195.400l3.650-6.600 3.650 6.600z"/><path d="M655 195.400l3.550-6.600 3.550 6.600z"/></g>
<g fill="#e0001b"><path d="M767.750 188.800h7.100l-3.550 6.600z"/><path d="M931.700 195.400l3.650-6.600 3.650 6.600z"/></g>
<!-- legend checkboxes -->
<g>
<rect x="153.400" y="343.800" width="8.600" height="8.500" rx="2.600" fill="#6a60e6"/>
<rect x="264.100" y="343.800" width="8.800" height="8.500" rx="2.600" fill="#ff2e8c"/>
<rect x="491.800" y="343.800" width="8.600" height="8.500" rx="2.600" fill="#7a3ff0"/>
<rect x="644.100" y="343.800" width="8.800" height="8.500" rx="2.600" fill="#2f7df6"/>
<rect x="153.400" y="366.700" width="8.600" height="8.500" rx="2.600" fill="#ffb545"/>
<rect x="405.300" y="366.700" width="8.800" height="8.500" rx="2.600" fill="#1fbf9a"/>
</g>
<g stroke="#fff" stroke-width="1.100" stroke-linecap="round" stroke-linejoin="round">
<path d="M155.700 348.200l1.35 1.35 2.4-2.8"/><path d="M266.500 348.200l1.35 1.35 2.4-2.8"/><path d="M494.100 348.200l1.35 1.35 2.4-2.8"/><path d="M646.500 348.200l1.35 1.35 2.4-2.8"/>
<path d="M155.700 371.100l1.35 1.35 2.4-2.8"/><path d="M407.700 371.100l1.35 1.35 2.4-2.8"/>
</g>
</svg>

<div class="a" style="left:152.10px;top:11.00px;font-size:10px;letter-spacing:-0.069px;color:#1f2331"><span style="-webkit-text-stroke:0.2px #1f2331">МОНЗА САЙТ ПРОДАЖ</span></div>
<div class="a" style="left:296.70px;top:11.00px;font-size:10px;letter-spacing:0.038px;color:#5e6987">monzaauto.ru</div>
<div class="a" style="left:372.50px;top:11.00px;font-size:10px;letter-spacing:-0.162px;color:#1f2331">94626126</div>
<div class="a" style="left:678.80px;top:11.00px;font-size:10px;letter-spacing:0.066px;color:#5e6987">Настройка аккаунта</div>
<div class="a" style="left:799.30px;top:11.00px;font-size:10px;letter-spacing:-0.063px;color:#5e6987">Помощь</div>
<div class="a" style="left:955.80px;top:11.00px;font-size:10px;letter-spacing:-0.284px;color:#1f2331;font-weight:bold"><span style="color:#e0001b">m</span>onzaauto</div>
<div class="a" style="left:21.50px;top:49.00px;font-size:10px;letter-spacing:-0.038px;color:#1f2331;font-weight:bold">Обзор</div>
<div class="a" style="left:21.30px;top:75.00px;font-size:10px;letter-spacing:-0.202px;color:#5e6987;font-weight:bold">Дашборды</div>
<div class="a" style="left:21.60px;top:100.00px;font-size:10px;letter-spacing:-0.342px;color:#5e6987;font-weight:bold">Отчеты</div>
<div class="a" style="left:21.80px;top:126.00px;font-size:10px;letter-spacing:-0.359px;color:#5e6987;font-weight:bold">Поведение</div>
<div class="a" style="left:21.80px;top:152.00px;font-size:10px;letter-spacing:-0.290px;color:#5e6987;font-weight:bold">Посетители</div>
<div class="a" style="left:21.80px;top:189.00px;font-size:10px;letter-spacing:-0.347px;color:#5e6987;font-weight:bold">Цели</div>
<div class="a" style="left:21.80px;top:215.00px;font-size:10px;letter-spacing:-0.256px;color:#5e6987;font-weight:bold">Конверсии</div>
<div class="a" style="left:21.80px;top:252.00px;font-size:10px;letter-spacing:-0.034px;color:#5e6987;font-weight:bold">Тег Менеджер</div>
<div class="a" style="left:21.80px;top:277.00px;font-size:10px;letter-spacing:-0.188px;color:#5e6987;font-weight:bold">Вариокуб</div>
<div class="a" style="left:21.80px;top:315.00px;font-size:10px;letter-spacing:-0.265px;color:#5e6987;font-weight:bold">Привлечение</div>
<div class="a" style="left:21.80px;top:341.00px;font-size:10px;letter-spacing:-0.068px;color:#5e6987;font-weight:bold">Интеграции</div>
<div class="a" style="left:21.70px;top:366.00px;font-size:10px;letter-spacing:-0.370px;color:#5e6987;font-weight:bold">Инсайты</div>
<div class="a" style="left:21.70px;top:392.00px;font-size:10px;letter-spacing:-0.164px;color:#5e6987;font-weight:bold">Настройки</div>
<div class="a" style="left:157.60px;top:60.00px;font-size:10px;letter-spacing:0.132px;color:#1f2331">Сегодня</div>
<div class="a" style="left:219.70px;top:60.00px;font-size:10px;letter-spacing:-0.243px;color:#1f2331">Вчера</div>
<div class="a" style="left:270.90px;top:60.00px;font-size:10px;letter-spacing:-0.013px;color:#1f2331">Неделя</div>
<div class="a" style="left:328.60px;top:60.00px;font-size:10px;letter-spacing:-0.030px;color:#1f2331">Месяц</div>
<div class="a" style="left:381.80px;top:60.00px;font-size:10px;letter-spacing:0.040px;color:#1f2331">Квартал</div>
<div class="a" style="left:443.30px;top:60.00px;font-size:10px;letter-spacing:-0.281px;color:#1f2331">28 фев 2025 — 17 мар 2026</div>
<div class="a" style="left:615.30px;top:60.00px;font-size:10px;letter-spacing:-0.133px;color:#1f2331">По дням</div>
<div class="a" style="left:901.00px;top:60.00px;font-size:10px;letter-spacing:0.145px;color:#1f2331">Добавить</div>
<div class="a" style="left:807.40px;top:60.00px;font-size:10px;letter-spacing:-0.376px;color:#6a3fd8;font-weight:bold">Что нового</div>
<div class="a" style="left:710.10px;top:61.00px;font-size:7.6px;letter-spacing:-0.300px;color:#fff;font-weight:bold;word-spacing:-0.980px">100 %</div>
<div class="a" style="left:152.70px;top:135.00px;font-size:14px;letter-spacing:0.224px;color:#1f2331;-webkit-text-stroke:0.15px #1f2331">По источникам трафика</div>
<div class="a" style="left:167.75px;top:164.00px;font-size:10px;letter-spacing:0.160px;color:#6a7491">Просмотры</div>
<div class="a" style="left:307.75px;top:164.00px;font-size:10px;letter-spacing:0.109px;color:#6a7491">Визиты</div>
<div class="a" style="left:447.75px;top:164.00px;font-size:10px;letter-spacing:0.075px;color:#6a7491">Посетители</div>
<div class="a" style="left:587.75px;top:164.00px;font-size:10px;letter-spacing:-0.161px;color:#6a7491">Время на сайте</div>
<div class="a" style="left:727.75px;top:164.00px;font-size:10px;letter-spacing:-0.008px;color:#6a7491">Глубина просмотра</div>
<div class="a" style="left:867.10px;top:164.00px;font-size:10px;letter-spacing:0.103px;color:#6a7491">Отказы</div>
<div class="a" style="left:167.75px;top:181.00px;font-size:17.5px;letter-spacing:-0.450px;color:#1f2331;word-spacing:0.002px;-webkit-text-stroke:0.3px #1f2331">289,9 тыс</div>
<div class="a" style="left:308.00px;top:181.00px;font-size:17.5px;letter-spacing:-0.450px;color:#1f2331;word-spacing:-0.248px;-webkit-text-stroke:0.3px #1f2331">152,7 тыс</div>
<div class="a" style="left:447.70px;top:181.00px;font-size:17.5px;letter-spacing:-0.450px;color:#1f2331;word-spacing:0.052px;-webkit-text-stroke:0.3px #1f2331">144,0 тыс</div>
<div class="a" style="left:587.70px;top:181.00px;font-size:17.5px;letter-spacing:-0.450px;color:#1f2331;word-spacing:-0.588px;-webkit-text-stroke:0.3px #1f2331">1 м 50 с</div>
<div class="a" style="left:727.70px;top:181.00px;font-size:17.5px;letter-spacing:-0.742px;color:#1f2331;-webkit-text-stroke:0.3px #1f2331">1,90</div>
<div class="a" style="left:867.00px;top:181.00px;font-size:17.5px;letter-spacing:-0.450px;color:#1f2331;word-spacing:-3.555px;-webkit-text-stroke:0.3px #1f2331">13,51 %</div>
<div class="a" style="left:665.90px;top:187.00px;font-size:10px;letter-spacing:-0.350px;color:#21b53a;word-spacing:-2.181px">+3,33 %</div>
<div class="a" style="left:779.00px;top:187.00px;font-size:10px;letter-spacing:-0.350px;color:#e0001b;word-spacing:-1.283px">-12,25 %</div>
<div class="a" style="left:942.60px;top:187.00px;font-size:10px;letter-spacing:-0.350px;color:#e0001b;word-spacing:-2.170px">+1,4 %</div>
<div class="a" style="left:153.30px;top:214.00px;font-size:9px;letter-spacing:-0.429px;color:#6a7491">1 000</div>
<div class="a" style="left:153.30px;top:256.00px;font-size:9px;letter-spacing:-0.605px;color:#6a7491">500</div>
<div class="a" style="left:153.30px;top:298.00px;font-size:9px;letter-spacing:0.000px;color:#6a7491">0</div>
<div class="a" style="left:172.90px;top:310.00px;font-size:9px;letter-spacing:-1.305px;color:#6a7491">фев</div>
<div class="a" style="left:190.00px;top:310.00px;font-size:9px;letter-spacing:-0.905px;color:#6a7491">25</div>
<div class="a" style="left:838.00px;top:310.00px;font-size:9px;letter-spacing:-0.422px;color:#6a7491">янв</div>
<div class="a" style="left:943.60px;top:310.00px;font-size:9px;letter-spacing:0.004px;color:#6a7491">мар</div>
<div class="a" style="left:168.00px;top:344.00px;font-size:10px;letter-spacing:-0.115px;color:#1f2331">Всего</div>
<div class="a" style="left:206.10px;top:344.00px;font-size:10px;letter-spacing:-0.430px;color:#1f2331;font-weight:bold">152,7 тыс</div>
<div class="a" style="left:278.80px;top:344.00px;font-size:10px;letter-spacing:0.032px;color:#1f2331">Переходы из поисковых систем</div>
<div class="a" style="left:439.10px;top:344.00px;font-size:10px;letter-spacing:-0.511px;color:#1f2331;font-weight:bold">47,6 тыс</div>
<div class="a" style="left:506.30px;top:344.00px;font-size:10px;letter-spacing:-0.055px;color:#1f2331">Прямые заходы</div>
<div class="a" style="left:591.00px;top:344.00px;font-size:10px;letter-spacing:-0.454px;color:#1f2331;font-weight:bold">65,6 тыс</div>
<div class="a" style="left:658.80px;top:344.00px;font-size:10px;letter-spacing:-0.084px;color:#1f2331">Переходы по ссылкам на сайтах</div>
<div class="a" style="left:820.00px;top:344.00px;font-size:10px;letter-spacing:-0.526px;color:#1f2331;font-weight:bold">12,4 тыс</div>
<div class="a" style="left:168.00px;top:367.00px;font-size:10px;letter-spacing:0.009px;color:#1f2331">Переходы из рекомендательных систем</div>
<div class="a" style="left:367.20px;top:367.00px;font-size:10px;letter-spacing:-0.416px;color:#1f2331;font-weight:bold">9 739</div>
<div class="a" style="left:419.90px;top:367.00px;font-size:10px;letter-spacing:-0.040px;color:#1f2331">Переходы по рекламе</div>
<div class="a" style="left:534.20px;top:367.00px;font-size:10px;letter-spacing:-0.366px;color:#1f2331;font-weight:bold">8 594</div>
<div class="a" style="left:932px;top:13.5px;font-size:10px;font-weight:bold;color:#fff;transform-origin:0 0;transform:scale(0.46,0.5)">MONZA</div>
<div class="p" style="left:364.2px;top:14.6px;width:2px;height:2px;border-radius:50%;background:#1f2331"></div>
</div></body></html>
